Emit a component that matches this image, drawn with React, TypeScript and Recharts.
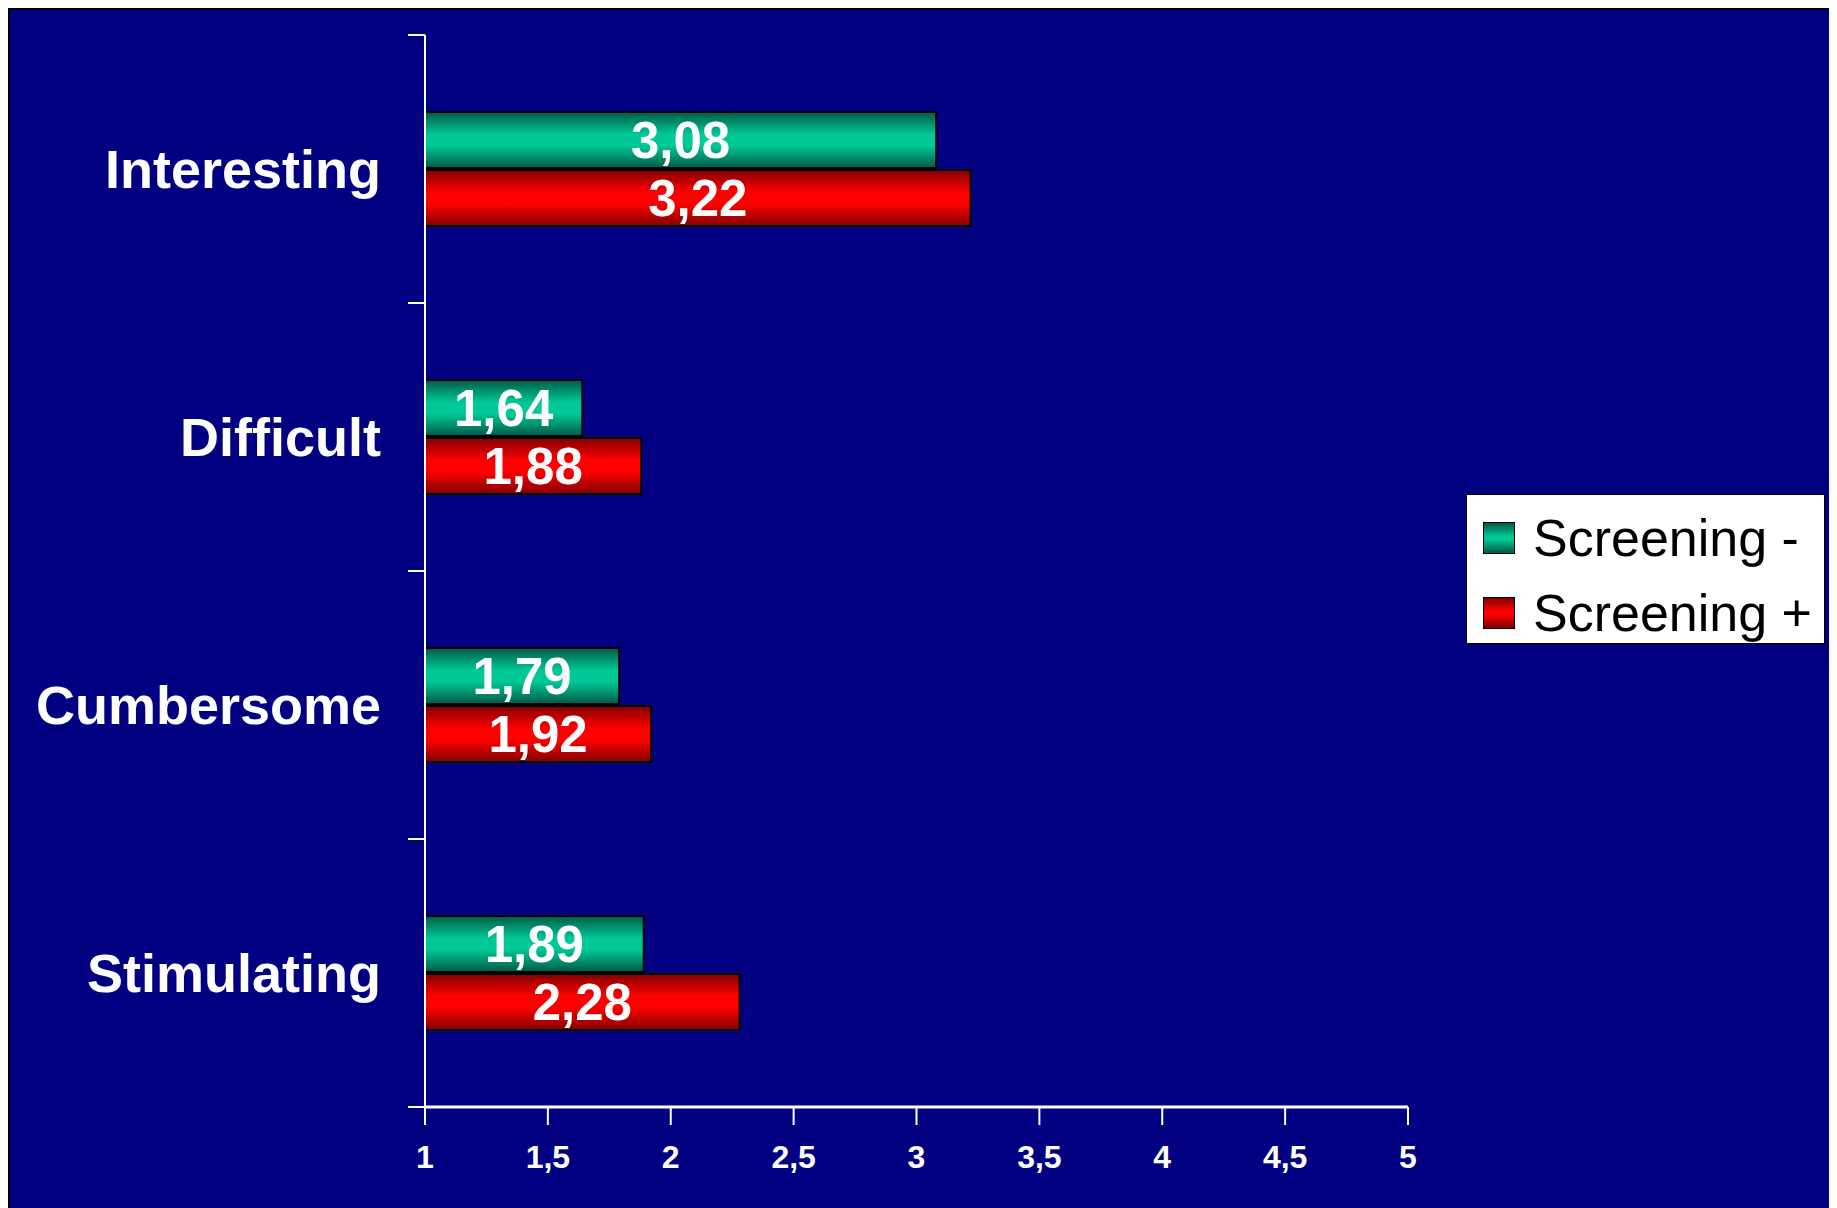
import { Bar, BarChart, LabelList, Legend, XAxis, YAxis } from "recharts";

const categories = ["Interesting", "Difficult", "Cumbersome", "Stimulating"];
const screeningMinus = [3.08, 1.64, 1.79, 1.89];
const screeningPlus = [3.22, 1.88, 1.92, 2.28];
const xTicks = [1, 1.5, 2, 2.5, 3, 3.5, 4, 4.5, 5];

const data = categories.map((name, i) => ({
  name,
  minus: screeningMinus[i],
  plus: screeningPlus[i],
}));

const FONT = "'Liberation Sans', Arial, sans-serif";
const PLOT_TOP = 25;
const PLOT_BOTTOM = 1097;
const BAND = (PLOT_BOTTOM - PLOT_TOP) / categories.length;
const LEGEND_W = 359;

const comma = (v: number) => String(v).replace(".", ",");

const CategoryTick = (props: any) => {
  const { x, y, payload, index } = props;
  const axisX = x + 44;
  return (
    <g>
      <text
        x={x}
        y={y}
        dy="0.36em"
        textAnchor="end"
        fill="#fff"
        fontSize={54}
        fontWeight="bold"
        fontFamily={FONT}
      >
        {payload.value}
      </text>
      <line x1={axisX - 17} x2={axisX} y1={y - BAND / 2} y2={y - BAND / 2} stroke="#fff" strokeWidth={2} />
      {index === categories.length - 1 && (
        <line x1={axisX - 17} x2={axisX} y1={y + BAND / 2} y2={y + BAND / 2} stroke="#fff" strokeWidth={2} />
      )}
    </g>
  );
};

const legendItems = [
  { label: "Screening -", bg: "linear-gradient(#005a46, #00c896 45%, #00c896 55%, #005a46)" },
  { label: "Screening +", bg: "linear-gradient(#800000, #ff0000 45%, #ff0000 55%, #800000)" },
];

const LegendBox = () => (
  <div
    style={{
      width: LEGEND_W,
      height: 150,
      background: "#fff",
      boxSizing: "border-box",
      border: "1px solid #000",
      position: "relative",
      fontFamily: FONT,
    }}
  >
    {legendItems.map((item, i) => (
      <div
        key={item.label}
        style={{
          position: "absolute",
          left: 16,
          top: 43 + i * 75 - 30,
          height: 60,
          display: "flex",
          alignItems: "center",
        }}
      >
        <div
          style={{
            width: 32,
            height: 32,
            border: "1.5px solid #000",
            boxSizing: "border-box",
            background: item.bg,
            marginRight: 18,
          }}
        />
        <span style={{ fontSize: 52, color: "#000", whiteSpace: "nowrap" }}>{item.label}</span>
      </div>
    ))}
  </div>
);

const valueLabel = (v: any) => Number(v).toFixed(2).replace(".", ",");

const App = () => {
  return (
    <div
      style={{
        width: 1819,
        height: 1200,
        background: "#000080",
        border: "2px solid #000",
        boxShadow: "3px 3px 0 #888",
      }}
    >
      <BarChart
        width={1819}
        height={1200}
        data={data}
        layout="vertical"
        margin={{ top: PLOT_TOP, right: 421 - LEGEND_W, left: 0, bottom: 23 }}
        barSize={56}
        barGap={2}
      >
        <defs>
          <linearGradient id="gradGreen" x1="0" y1="0" x2="0" y2="1">
            <stop offset="0%" stopColor="#005a46" />
            <stop offset="40%" stopColor="#00c896" />
            <stop offset="60%" stopColor="#00c896" />
            <stop offset="100%" stopColor="#005a46" />
          </linearGradient>
          <linearGradient id="gradRed" x1="0" y1="0" x2="0" y2="1">
            <stop offset="0%" stopColor="#800000" />
            <stop offset="40%" stopColor="#ff0000" />
            <stop offset="60%" stopColor="#ff0000" />
            <stop offset="100%" stopColor="#800000" />
          </linearGradient>
        </defs>
        <XAxis
          type="number"
          domain={[1, 5]}
          ticks={xTicks}
          allowDataOverflow
          height={80}
          tickFormatter={comma}
          tick={{ fill: "#fff", fontSize: 32, fontWeight: "bold", fontFamily: FONT }}
          tickSize={18}
          tickMargin={20}
          stroke="#fff"
          axisLine={{ stroke: "#fff", strokeWidth: 3 }}
          tickLine={{ stroke: "#fff", strokeWidth: 2 }}
        />
        <YAxis
          type="category"
          dataKey="name"
          width={415}
          tick={<CategoryTick />}
          tickLine={false}
          tickSize={0}
          tickMargin={44}
          axisLine={{ stroke: "#fff", strokeWidth: 2 }}
        />
        <Legend
          layout="horizontal"
          verticalAlign="middle"
          align="right"
          content={<LegendBox />}
          wrapperStyle={{ left: 1456, top: 484, width: LEGEND_W, right: "auto", bottom: "auto" }}
        />
        <Bar dataKey="minus" name="Screening -" fill="url(#gradGreen)" stroke="#000" strokeWidth={2} isAnimationActive={false}>
          <LabelList
            dataKey="minus"
            position="center"
            formatter={valueLabel}
            fill="#fff"
            fontSize={51}
            fontWeight="bold"
            fontFamily={FONT}
          />
        </Bar>
        <Bar dataKey="plus" name="Screening +" fill="url(#gradRed)" stroke="#000" strokeWidth={2} isAnimationActive={false}>
          <LabelList
            dataKey="plus"
            position="center"
            formatter={valueLabel}
            fill="#fff"
            fontSize={51}
            fontWeight="bold"
            fontFamily={FONT}
          />
        </Bar>
      </BarChart>
    </div>
  );
};

export default App;
